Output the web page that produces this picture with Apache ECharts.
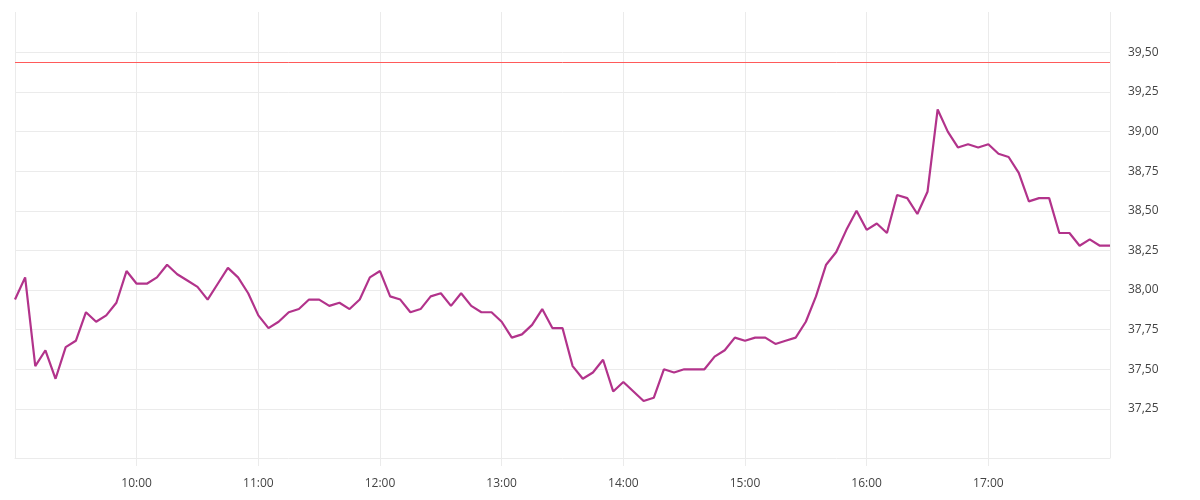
<!DOCTYPE html>
<html>
<head>
<meta charset="utf-8">
<script src="https://cdn.jsdelivr.net/npm/echarts@6/dist/echarts.min.js"></script>
<style>
html,body{margin:0;padding:0;background:#fff;}
#chart{width:1200px;height:500px;}
</style>
</head>
<body>
<div id="chart"></div>
<script>
// Times (5-minute steps) and prices
const times = [
"09:00","09:05","09:10","09:15","09:20","09:25","09:30","09:35","09:40","09:45","09:50","09:55",
"10:00","10:05","10:10","10:15","10:20","10:25","10:30","10:35","10:40","10:45","10:50","10:55",
"11:00","11:05","11:10","11:15","11:20","11:25","11:30","11:35","11:40","11:45","11:50","11:55",
"12:00","12:05","12:10","12:15","12:20","12:25","12:30","12:35","12:40","12:45","12:50","12:55",
"13:00","13:05","13:10","13:15","13:20","13:25","13:30","13:35","13:40","13:45","13:50","13:55",
"14:00","14:05","14:10","14:15","14:20","14:25","14:30","14:35","14:40","14:45","14:50","14:55",
"15:00","15:05","15:10","15:15","15:20","15:25","15:30","15:35","15:40","15:45","15:50","15:55",
"16:00","16:05","16:10","16:15","16:20","16:25","16:30","16:35","16:40","16:45","16:50","16:55",
"17:00","17:05","17:10","17:15","17:20","17:25","17:30","17:35","17:40","17:45","17:50","17:55",
"18:00"
];
const prices = [
37.94,38.08,37.52,37.62,37.44,37.64,37.68,37.86,37.80,37.84,37.92,38.12,
38.04,38.04,38.08,38.16,38.10,38.06,38.02,37.94,38.04,38.14,38.08,37.98,
37.84,37.76,37.80,37.86,37.88,37.94,37.94,37.90,37.92,37.88,37.94,38.08,
38.12,37.96,37.94,37.86,37.88,37.96,37.98,37.90,37.98,37.90,37.86,37.86,
37.80,37.70,37.72,37.78,37.88,37.76,37.76,37.52,37.44,37.48,37.56,37.36,
37.42,37.36,37.30,37.32,37.50,37.48,37.50,37.50,37.50,37.58,37.62,37.70,
37.68,37.70,37.70,37.66,37.68,37.70,37.80,37.96,38.16,38.24,38.38,38.50,
38.38,38.42,38.36,38.60,38.58,38.48,38.62,39.14,39.00,38.90,38.92,38.90,
38.92,38.86,38.84,38.74,38.56,38.58,38.58,38.36,38.36,38.28,38.32,38.28,
38.28
];
const referenceLine = [39.44];
const yTicks = [37.25,37.50,37.75,38.00,38.25,38.50,38.75,39.00,39.25,39.50];
const xStart = "09:00", xEnd = "18:00";

function toMin(t){ const p=t.split(':'); return (+p[0])*60 + (+p[1]); }
function fromMin(m){ const h=Math.floor(m/60), mm=m%60; return (h<10?'0':'')+h+':'+(mm<10?'0':'')+mm; }

const data = times.map((t,i)=>[toMin(t), prices[i]]);

const chart = echarts.init(document.getElementById('chart'));
chart.setOption({
  animation:false,
  backgroundColor:'#fff',
  grid:{left:15,right:90,top:12,bottom:42,containLabel:false},
  xAxis:{
    type:'value',
    min:toMin(xStart), max:toMin(xEnd), interval:60,
    axisLine:{show:true,lineStyle:{color:'#ebebeb',width:1}},
    axisTick:{show:true,length:8,lineStyle:{color:'#ebebeb'}},
    splitLine:{show:true,lineStyle:{color:'#ebebeb',width:1}},
    axisLabel:{
      showMinLabel:false, showMaxLabel:false,
      color:'#444', fontSize:12, fontFamily:'Open Sans', margin:20,
      formatter:v=>fromMin(v)
    }
  },
  yAxis:{
    type:'value', position:'right',
    min:36.94, max:39.755,
    axisLine:{show:false},
    axisTick:{show:false, customValues:yTicks},
    splitLine:{show:true,lineStyle:{color:'#ebebeb',width:1}},
    axisLabel:{
      customValues:yTicks,
      color:'#444', fontSize:12, fontFamily:'Open Sans', margin:18,
      padding:[5,0,0,0],
      formatter:v=>v.toFixed(2).replace('.',',')
    }
  },
  series:[{
    type:'line',
    data:data,
    showSymbol:false,
    symbol:'none',
    lineStyle:{color:'#b2338b',width:2.2},
    itemStyle:{color:'#b2338b'},
    markLine:{
      silent:true,
      symbol:['none','none'],
      label:{show:false},
      lineStyle:{color:'#ff5a5a',width:1,type:'solid'},
      data:referenceLine.map(v=>({yAxis:v}))
    }
  }]
});
</script>
</body>
</html>
